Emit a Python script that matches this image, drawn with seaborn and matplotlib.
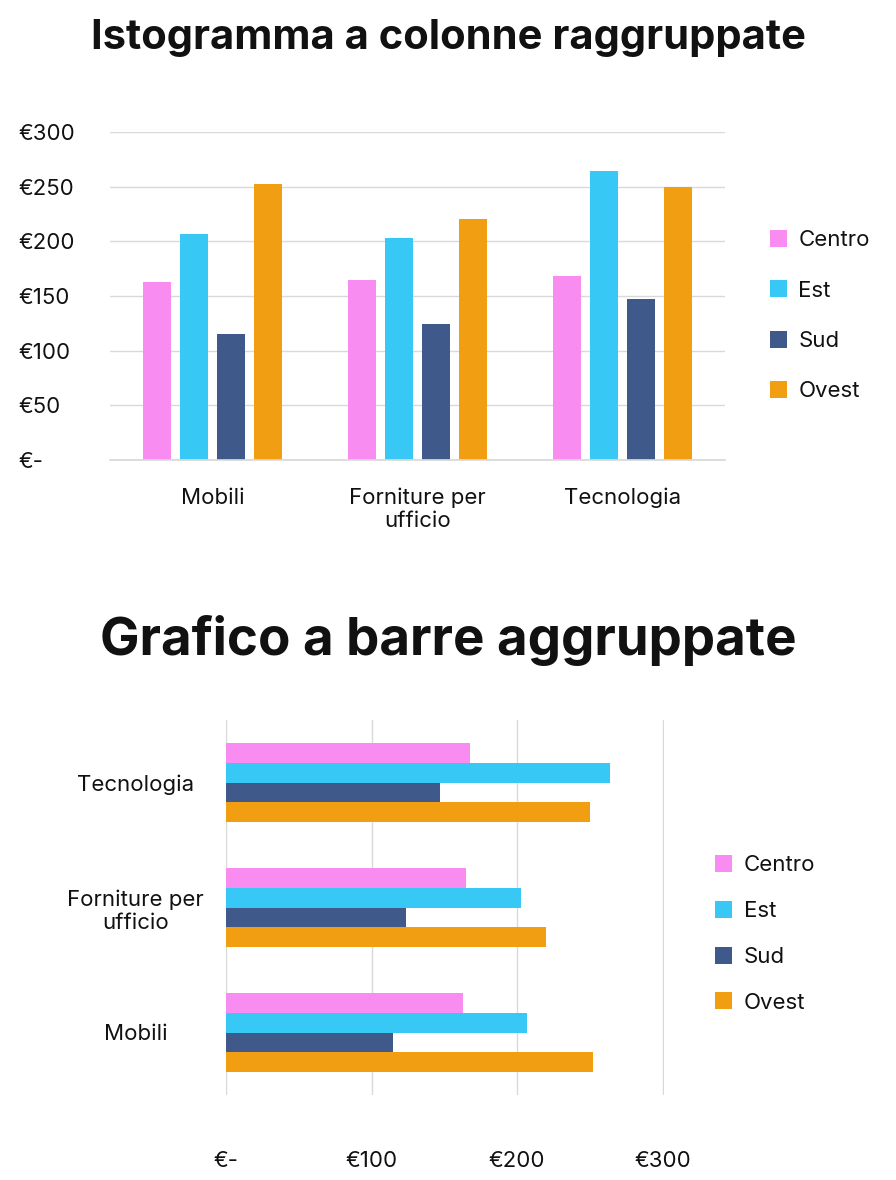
import matplotlib
matplotlib.use("Agg")
import matplotlib.pyplot as plt
import seaborn as sns
import pandas as pd

categories = ["Mobili", "Forniture per\nufficio", "Tecnologia"]
regions = ["Centro", "Est", "Sud", "Ovest"]
centro = [163, 165, 168]
est = [207, 203, 264]
sud = [115, 124, 147]
ovest = [252, 220, 250]
yticks = [0, 50, 100, 150, 200, 250, 300]
xticks = [0, 100, 200, 300]
colors = ["#F98CF0", "#38C8F5", "#3F5A8A", "#F29E12"]

rows = []
for i, c in enumerate(categories):
    for r, vals in zip(regions, [centro, est, sud, ovest]):
        rows.append({"cat": c, "reg": r, "val": vals[i]})
df = pd.DataFrame(rows)

sns.set_theme(style="white")
plt.rcParams['font.family'] = ['Inter', 'DejaVu Sans']
plt.rcParams['text.color'] = '#111111'
plt.rcParams['xtick.color'] = '#111111'
plt.rcParams['ytick.color'] = '#111111'
fig = plt.figure(figsize=(8.96, 11.8), dpi=100)

def fmt(v):
    return "€-" if v == 0 else f"€{v}"

# Top chart
ax1 = fig.add_axes([110/896, 1-460/1180, 615/896, 328/1180])
sns.barplot(data=df, x="cat", y="val", hue="reg", order=categories, hue_order=regions,
            palette=colors, width=0.72, gap=0.25, ax=ax1, saturation=1, edgecolor="none")
ax1.set_ylim(0, 300)
ax1.set_yticks(yticks)
ax1.set_yticklabels([fmt(v) for v in yticks], fontsize=16)
ax1.tick_params(axis="x", labelsize=16, pad=20)
ax1.tick_params(axis="y", pad=66)
for lab in ax1.get_yticklabels():
    lab.set_ha("left")
ax1.set_xlabel(""); ax1.set_ylabel("")
ax1.yaxis.grid(True, color="#D9D9D9", lw=1)
ax1.set_axisbelow(True)
for s in ["top", "right", "left"]:
    ax1.spines[s].set_visible(False)
ax1.spines["bottom"].set_color("#D9D9D9")
ax1.tick_params(axis="both", length=0)
ax1.legend(loc="center left", bbox_to_anchor=(1.04, 0.44), frameon=False, fontsize=16,
           handlelength=0.8, handleheight=0.8, labelspacing=1.35, handletextpad=0.5)
fig.text(0.5, 1-38/1180, "Istogramma a colonne raggruppate", ha="center", va="center",
         fontsize=30, fontweight="bold")

# Bottom chart
order2 = categories[::-1]
ax2 = fig.add_axes([226/896, 1-1095/1180, 438/896, 375/1180])
sns.barplot(data=df, y="cat", x="val", hue="reg", order=order2, hue_order=regions,
            palette=colors, width=0.63, gap=0, ax=ax2, saturation=1, edgecolor="none", orient="h")
ax2.set_xlim(0, 301)
ax2.set_xticks(xticks)
ax2.set_xticklabels([fmt(v) for v in xticks], fontsize=16)
ax2.tick_params(axis="x", pad=40)
ax2.tick_params(axis="y", labelsize=16, pad=65)
ax2.set_xlabel(""); ax2.set_ylabel("")
ax2.xaxis.grid(True, color="#D9D9D9", lw=1)
ax2.set_axisbelow(True)
for s in ["top", "right", "left", "bottom"]:
    ax2.spines[s].set_visible(False)
ax2.tick_params(axis="both", length=0)
for lab in ax2.get_yticklabels():
    lab.set_ha("center")
ax2.legend(loc="center left", bbox_to_anchor=(1.07, 0.43), frameon=False, fontsize=16,
           handlelength=0.8, handleheight=0.8, labelspacing=1.15, handletextpad=0.5)
fig.text(0.5, 1-640/1180, "Grafico a barre aggruppate", ha="center", va="center",
         fontsize=38, fontweight="bold")

fig.savefig("out.png", dpi=100)
